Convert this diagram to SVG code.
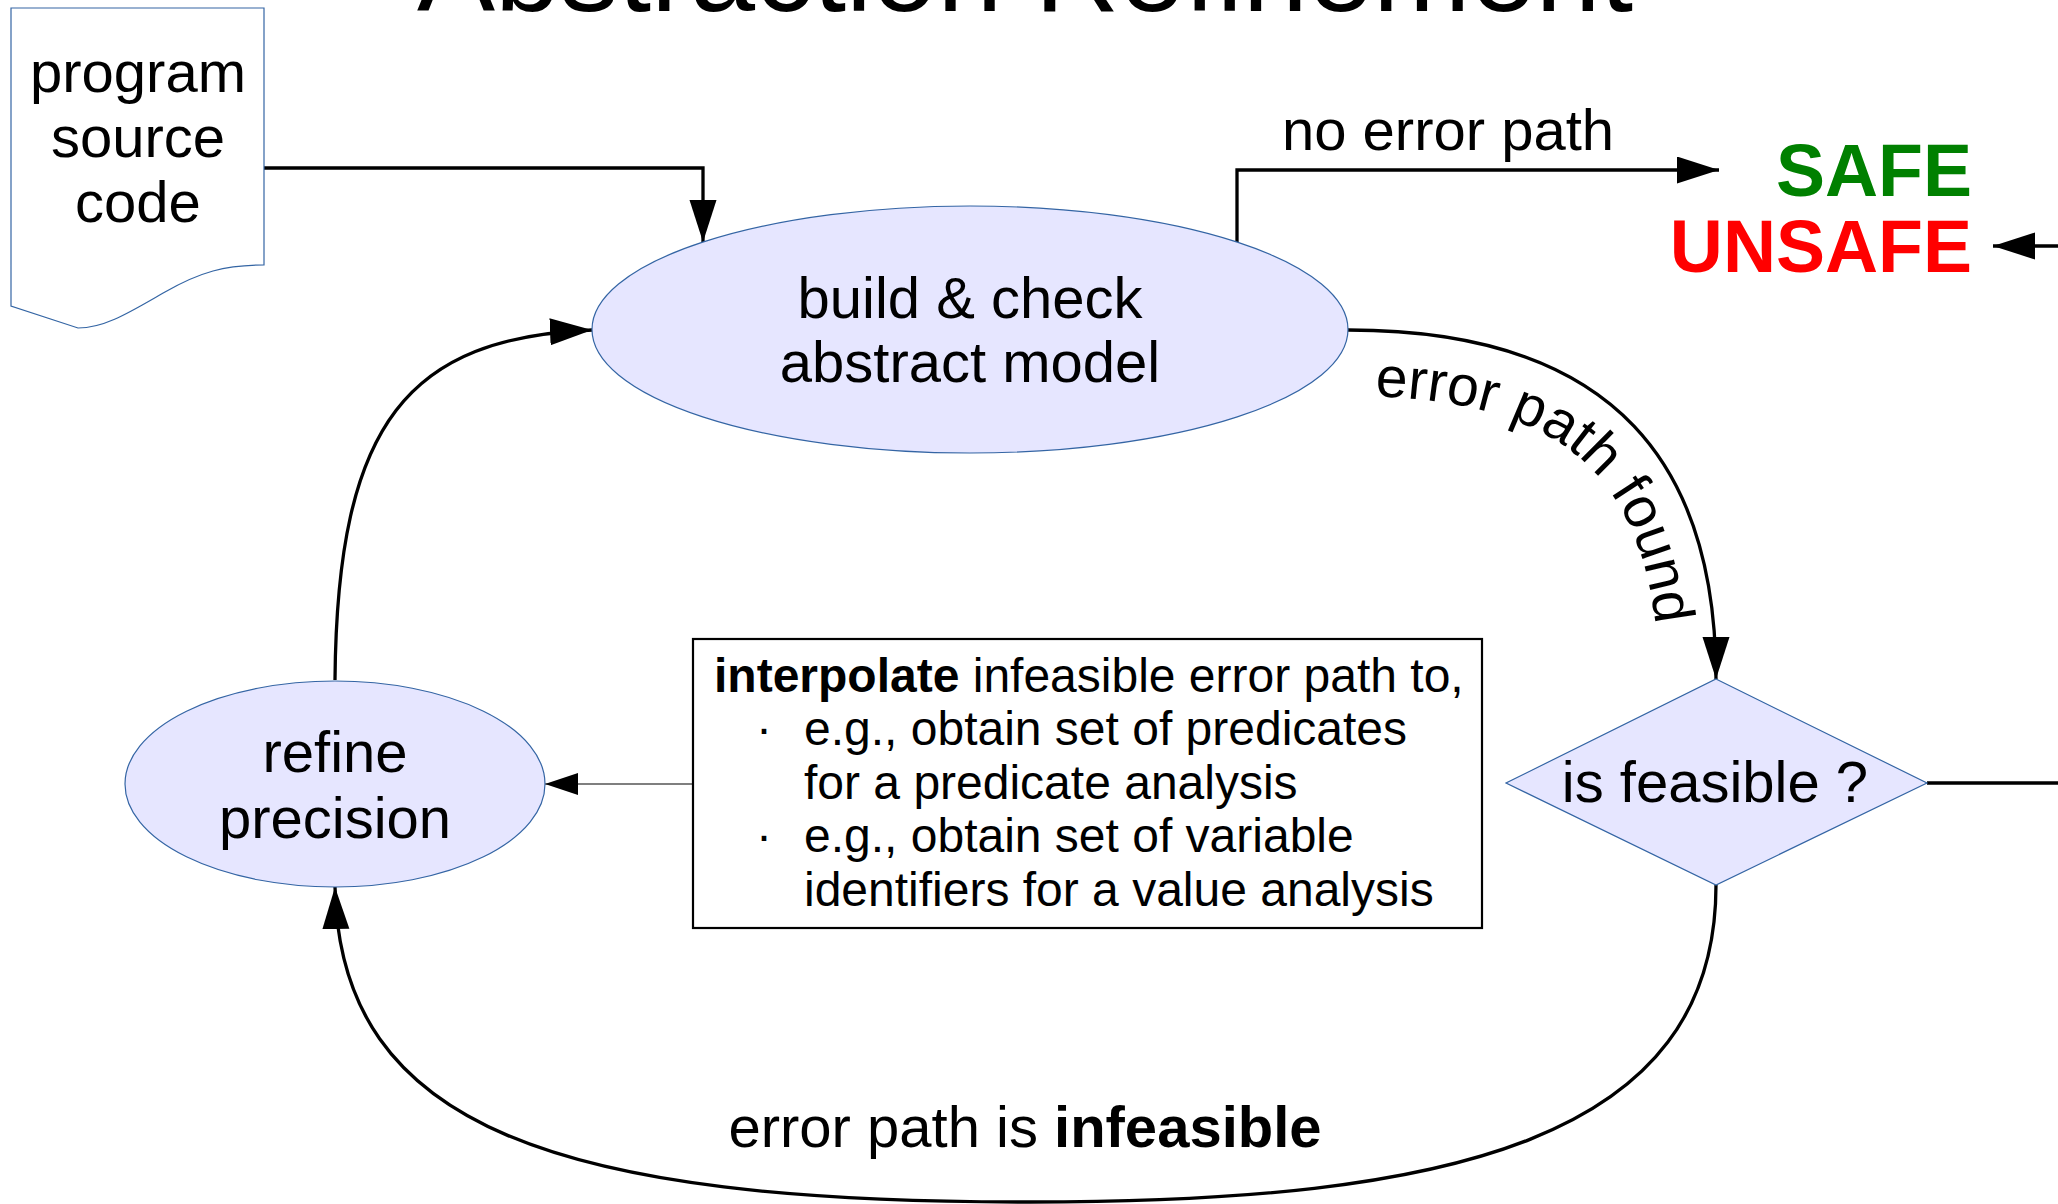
<svg xmlns="http://www.w3.org/2000/svg" width="2058" height="1204" viewBox="0 0 2058 1204">
  <style>
    text { font-family: "Liberation Sans", Arial, sans-serif; fill: #000; }
    .node { fill: #e6e6ff; stroke: #3465a4; stroke-width: 1.2; }
    .doc { fill: #ffffff; stroke: #3465a4; stroke-width: 1.2; }
    .lbl { font-size: 58px; text-anchor: middle; }
    .edge { fill: none; stroke: #000; stroke-width: 3.3; }
    .thin { fill: none; stroke: #555; stroke-width: 1.6; }
    .box { fill: #ffffff; stroke: #000; stroke-width: 2.2; }
    .boxt { font-size: 48px; }
    .b { font-weight: bold; }
  </style>
  <defs>
    <marker id="arr" markerUnits="userSpaceOnUse" markerWidth="44" markerHeight="30" refX="42" refY="13.5" orient="auto">
      <path d="M0,0 L42,13.5 L0,27 Z" fill="#000"/>
    </marker>
    <marker id="arrs" markerUnits="userSpaceOnUse" markerWidth="36" markerHeight="24" refX="33" refY="11" orient="auto">
      <path d="M0,0 L33,11 L0,22 Z" fill="#000"/>
    </marker>
    <path id="foundPath" d="M1348,396 C1580,396 1656,488 1660,690"/>
  </defs>

  <text id="title" x="1025" y="11" font-size="117" text-anchor="middle">Abstraction Refinement</text>

  <g id="connectors">
    <path class="edge" d="M264,168 H703 V242" marker-end="url(#arr)"/>
    <path class="edge" d="M1237,242 V170 H1719" marker-end="url(#arr)"/>
    <path class="edge" d="M1348,330 C1620,330 1716,470 1716,679" marker-end="url(#arr)"/>
    <path class="edge" d="M1927,783 H2120 V246 H1993" marker-end="url(#arr)"/>
    <path class="edge" d="M1716,885 C1716,1140 1450,1202 1030,1202 C560,1202 340,1130 335,887" marker-end="url(#arr)"/>
    <path class="edge" d="M335,680 C337,420 410,338 592,330" marker-end="url(#arr)"/>
    <path class="thin" d="M693,784 H545" marker-end="url(#arrs)"/>
    <text class="lbl" x="1448" y="150">no error path</text>
    <text font-size="57"><textPath href="#foundPath" startOffset="27">error path found</textPath></text>
    <text class="lbl" x="1025" y="1147">error path is <tspan class="b">infeasible</tspan></text>
  </g>

  <g id="source">
    <path class="doc" d="M11,8 H264 V265 C225,265 200,272 165,292 C130,312 105,328 78,328 L11,306 Z"/>
    <text class="lbl" x="138" y="92">program</text>
    <text class="lbl" x="138" y="157">source</text>
    <text class="lbl" x="138" y="222">code</text>
  </g>

  <g id="build">
    <ellipse class="node" cx="970" cy="329.5" rx="378" ry="123.5"/>
    <text class="lbl" x="970" y="318">build &amp; check</text>
    <text class="lbl" x="970" y="382">abstract model</text>
  </g>

  <g id="feasible">
    <polygon class="node" points="1716,679 1927,783 1716,885 1506,783"/>
    <text class="lbl" x="1715" y="802">is feasible ?</text>
  </g>

  <g id="refine">
    <ellipse class="node" cx="335" cy="784" rx="210" ry="103"/>
    <text class="lbl" x="335" y="772">refine</text>
    <text class="lbl" x="335" y="838">precision</text>
  </g>

  <g id="interpolate">
    <rect class="box" x="693" y="639" width="789" height="289"/>
    <text class="boxt" x="714" y="692"><tspan class="b">interpolate</tspan> infeasible error path to,</text>
    <text class="boxt" x="756" y="745">·</text>
    <text class="boxt" x="804" y="745">e.g., obtain set of predicates</text>
    <text class="boxt" x="804" y="799">for a predicate analysis</text>
    <text class="boxt" x="756" y="852">·</text>
    <text class="boxt" x="804" y="852">e.g., obtain set of variable</text>
    <text class="boxt" x="804" y="906">identifiers for a value analysis</text>
  </g>

  <g id="results">
    <text x="1972" y="196" font-size="73.5" font-weight="bold" text-anchor="end" style="fill:#008000">SAFE</text>
    <text x="1972" y="272" font-size="73.5" font-weight="bold" text-anchor="end" style="fill:#ff0000">UNSAFE</text>
  </g>
</svg>
